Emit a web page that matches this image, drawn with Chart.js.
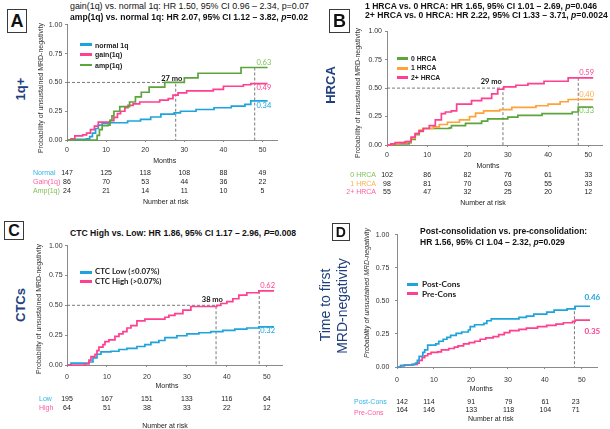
<!DOCTYPE html>
<html><head><meta charset="utf-8">
<script src="https://cdn.jsdelivr.net/npm/chart.js@4.4.1/dist/chart.umd.min.js"></script>
<style>
html,body{margin:0;padding:0;background:#fff;}
#root{position:relative;width:610px;height:429px;overflow:hidden;background:#fff;font-family:"Liberation Sans",Arial,sans-serif;}
.t{position:absolute;white-space:nowrap;line-height:1;}
canvas{position:absolute;}
.box{position:absolute;border:1.4px solid #3a3a3a;box-sizing:border-box;display:flex;align-items:center;justify-content:center;font-weight:bold;color:#111;line-height:1;}
.sw{position:absolute;height:2.6px;}
</style></head><body><div id="root"></div>
<script>
// ---------------- DATA ----------------
const monthTicks = [0, 10, 20, 30, 40, 50];
const probTicks = [0, 0.25, 0.5, 0.75, 1];

// Panel A: 1q+
const normal1q_t = [0,2,5,5.8,6.5,7.3,8,9,11,15.5,18.8,21.4,24,27.4,29,33,37.6,42,45.5,47,51.3];
const normal1q_p = [0,0.005,0.01,0.03,0.06,0.10,0.13,0.145,0.15,0.165,0.18,0.20,0.225,0.235,0.25,0.265,0.28,0.295,0.31,0.34,0.34];
const gain1q_t = [0,1,2,4,5,6,7,8,11,12,12.9,13.7,14.8,15.6,16.9,18.6,23.7,25.9,27.1,28.4,30.6,37.4,40,45.1,47,51.3];
const gain1q_p = [0,0.01,0.035,0.045,0.06,0.09,0.12,0.155,0.168,0.196,0.23,0.25,0.28,0.30,0.314,0.33,0.346,0.36,0.39,0.41,0.426,0.44,0.467,0.48,0.49,0.49];
const amp1q_t = [0,7.7,8.3,9,10.5,11,11.5,12,13.5,16,17.5,19,21,25,30,33.5,44.5,51.3];
const amp1q_p = [0,0.04,0.09,0.125,0.13,0.17,0.21,0.25,0.29,0.33,0.375,0.415,0.46,0.50,0.54,0.58,0.63,0.63];
const riskNormal = [147,125,118,108,88,49];
const riskGain = [86,70,53,44,36,22];
const riskAmp = [24,21,14,11,10,5];

// Panel B: HRCA
const hrca0_t = [0,1,3,5.5,6,7,8,9,15.5,16,19.5,23.5,25,30,32.5,38.5,46,47.5,51.2];
const hrca0_p = [0,0.005,0.01,0.02,0.05,0.09,0.12,0.145,0.15,0.17,0.19,0.21,0.23,0.245,0.26,0.275,0.29,0.333,0.333];
const hrca1_t = [0,1,3,5,6,7,8,9,11.5,13,15,18,20.5,22,24,28,31,37,40,43,45,51.2];
const hrca1_p = [0,0.01,0.02,0.03,0.06,0.10,0.13,0.145,0.16,0.18,0.20,0.22,0.25,0.28,0.30,0.31,0.33,0.345,0.36,0.38,0.40,0.40];
const hrca2_t = [0,1,2,4.5,6,7,8,9,10.5,12,13.5,14.5,16,17.3,21,23.5,26,27.5,29,32,35,39,45,51.2];
const hrca2_p = [0,0.01,0.02,0.03,0.07,0.10,0.125,0.145,0.17,0.22,0.275,0.29,0.30,0.36,0.39,0.41,0.45,0.49,0.51,0.525,0.54,0.56,0.59,0.59];
const risk0 = [102,86,82,76,61,33];
const risk1 = [98,81,70,63,55,33];
const risk2 = [55,47,32,25,20,12];

// Panel C: CTCs
const ctcLow_t = [0,1,5.5,6.5,7.5,8.5,11,13,15,17.5,19.5,21,23,24.5,27.5,30,33,36,39,42,45,48,51.8];
const ctcLow_p = [0,0.015,0.025,0.06,0.09,0.11,0.115,0.13,0.14,0.155,0.17,0.19,0.205,0.23,0.245,0.26,0.27,0.28,0.29,0.30,0.31,0.32,0.32];
const ctcHigh_t = [0,4.5,5.5,6,7,7.5,8,9,9.5,10.5,12,13,14,15,16,17.5,19.5,24.5,25.5,27,29,31,37.5,38.5,40,41.5,43,45,48,51.8];
const ctcHigh_p = [0,0.01,0.04,0.07,0.09,0.12,0.15,0.17,0.195,0.21,0.24,0.26,0.28,0.31,0.33,0.37,0.385,0.40,0.415,0.43,0.46,0.49,0.50,0.515,0.53,0.555,0.585,0.605,0.62,0.62];
const riskLow = [195,167,151,133,116,64];
const riskHigh = [64,51,38,33,22,12];

// Panel D: time to first MRD-negativity
const post_t = [0,1,2,4,5,5.5,6,7,7.5,8.3,10.5,11.3,12.5,13.5,14.5,16,17.5,19.3,19.8,21,23.5,24.3,25.5,33,35,37,40.5,42.5,46,48.2,52.2];
const post_p = [0,0.01,0.015,0.02,0.03,0.05,0.08,0.11,0.13,0.165,0.175,0.195,0.21,0.225,0.24,0.255,0.265,0.28,0.305,0.32,0.33,0.35,0.365,0.375,0.385,0.40,0.415,0.43,0.44,0.46,0.46];
const pre_t = [0,1,2,4.5,5.5,6,6.8,7.5,8.3,9.2,11,12,14,15.5,16.5,18,19.5,21,22.5,24,26,27.5,29,30.5,33,35,38,40.5,43,45,47.5,48.2,52.2];
const pre_p = [0,0.01,0.015,0.02,0.03,0.05,0.07,0.085,0.10,0.11,0.115,0.13,0.14,0.15,0.16,0.175,0.185,0.195,0.21,0.22,0.23,0.245,0.26,0.275,0.285,0.295,0.305,0.315,0.325,0.335,0.345,0.355,0.355];
const riskPost = [142,114,91,79,61,23];
const riskPre = [164,146,133,118,104,71];

// medians & landmarks
const medianMo = [27.8, 28.8, 37.3, null];
const medianText = ['27 mo', '29 mo', '38 mo', null];
const landmarkMo = [48, 47.5, 48.1, 48];
const endA = [0.63, 0.49, 0.34];
const endB = [0.59, 0.40, 0.33];
const endC = [0.62, 0.32];
const endD = [0.46, 0.35];

// ---------------- STYLE ----------------
const SANS = '"Liberation Sans", Arial, Helvetica, sans-serif';
const CAL = 'Lato, "Open Sans", sans-serif';
const C_CYAN = '#1ea4dc', C_PINK = '#ff3f8f', C_GREEN = '#5da43c', C_ORANGE = '#ffa23a';
const L_CYAN = '#35b3e6', L_PINK = '#ff5aa0', L_GREEN = '#7dbf52', L_ORANGE = '#ffae4a';
const NAVY = '#203f7e';

const root = document.getElementById('root');
function txt(x, y, html, o = {}) {
  const e = document.createElement('div');
  e.className = 't';
  e.innerHTML = html;
  e.style.left = x + 'px'; e.style.top = y + 'px';
  e.style.fontSize = (o.size || 7) + 'px';
  e.style.fontFamily = o.family || SANS;
  if (o.bold) e.style.fontWeight = 'bold';
  if (o.italic) e.style.fontStyle = 'italic';
  e.style.color = o.color || '#222';
  const ax = o.align === 'center' ? '-50%' : o.align === 'right' ? '-100%' : '0';
  e.style.transform = 'translate(' + (o.rot ? '-50%' : ax) + ',-50%)' + (o.rot ? ' rotate(' + o.rot + 'deg)' : '');
  root.appendChild(e);
  return e;
}
function box(x, y, w, h, letter, size) {
  const e = document.createElement('div');
  e.className = 'box';
  Object.assign(e.style, {left: x + 'px', top: y + 'px', width: w + 'px', height: h + 'px', fontSize: size + 'px', fontFamily: SANS});
  e.textContent = letter;
  root.appendChild(e);
}
function swatch(x1, x2, y, color) {
  const e = document.createElement('div');
  e.className = 'sw';
  Object.assign(e.style, {left: x1 + 'px', top: (y - 1.3) + 'px', width: (x2 - x1) + 'px', background: color});
  root.appendChild(e);
}
function series(t, p) { return t.map((m, i) => ({x: m, y: p[i]})); }
function curve(t, p, color) {
  return {data: series(t, p), borderColor: color, borderWidth: 1.7, stepped: 'before', pointRadius: 0, fill: false, clip: false, order: 0};
}
function dash(pts) {
  return {data: pts, borderColor: '#7a7a7a', borderWidth: 1, borderDash: [3, 2], pointRadius: 0, fill: false, stepped: false, clip: false, order: 1};
}

function makePanel(p) {
  const cv = document.createElement('canvas');
  const W = p.area.right - p.area.left + p.Yw + p.R;
  const H = p.area.bottom - p.area.top + p.T + p.Xh;
  const L = p.area.left - p.Yw, Tp = p.area.top - p.T;
  cv.width = W; cv.height = H;
  cv.style.left = L + 'px'; cv.style.top = Tp + 'px';
  cv.style.width = W + 'px'; cv.style.height = H + 'px';
  root.appendChild(cv);
  const tickFont = {family: SANS, size: 7};
  const chart = new Chart(cv, {
    type: 'line',
    data: {datasets: p.datasets},
    options: {
      responsive: false, animation: false, devicePixelRatio: 1,
      layout: {padding: {left: 0, top: p.T, right: p.R, bottom: 0}},
      plugins: {legend: {display: false}, tooltip: {enabled: false}},
      elements: {point: {radius: 0}, line: {tension: 0}},
      scales: {
        x: {
          type: 'linear', min: 0, max: p.xMax,
          afterBuildTicks: s => { s.ticks = monthTicks.map(v => ({value: v})); },
          afterFit: s => { s.height = p.Xh; },
          grid: {display: true, drawOnChartArea: false, tickLength: 2, color: '#8a8a8a'},
          border: {display: true, color: '#8a8a8a', width: 1},
          ticks: {padding: p.xPad, color: '#333', font: tickFont, maxRotation: 0, minRotation: 0, autoSkip: false}
        },
        y: {
          type: 'linear', min: 0, max: 1,
          afterBuildTicks: s => { s.ticks = probTicks.map(v => ({value: v})); },
          afterFit: s => { s.width = p.Yw; },
          grid: {display: true, drawOnChartArea: false, tickLength: 2, color: '#8a8a8a'},
          border: {display: true, color: '#8a8a8a', width: 1},
          ticks: {padding: p.yPad, color: '#333', font: tickFont, callback: v => Number(v).toFixed(2), autoSkip: false}
        }
      }
    }
  });
  const X = m => L + chart.scales.x.getPixelForValue(m);
  const Y = v => Tp + chart.scales.y.getPixelForValue(v);
  return {chart, X, Y};
}

function riskRows(P, rows, nudges) {
  rows.forEach(r => {
    txt(r.lx, r.ly, r.label, {size: 7, color: r.color, align: r.lalign || 'left'});
    r.vals.forEach((v, i) => {
      txt(P.X(monthTicks[i]) + (nudges ? nudges[i] : 0), r.ny !== undefined ? r.ny : r.ly, String(v), {size: 7, color: '#222', align: 'center'});
    });
  });
}

// ---------------- PANEL A ----------------
(function () {
  const P = makePanel({
    area: {left: 67, right: 277, top: 24, bottom: 140}, xMax: 53.7,
    Yw: 30, T: 6, R: 8, Xh: 22, xPad: 4.3, yPad: 2.7,
    datasets: [
      curve(amp1q_t, amp1q_p, C_GREEN),
      curve(gain1q_t, gain1q_p, C_PINK),
      curve(normal1q_t, normal1q_p, C_CYAN),
      dash([{x: 0, y: 0.5}, {x: medianMo[0], y: 0.5}, {x: medianMo[0], y: 0}]),
      dash([{x: landmarkMo[0], y: endA[0]}, {x: landmarkMo[0], y: 0}])
    ]
  });
  box(7.3, 9.3, 19.4, 24, 'A', 18);
  txt(20, 89, '1q+', {size: 13, bold: true, color: NAVY, rot: -90});
  txt(70, 6, 'gain(1q) vs. normal 1q: HR 1.50, 95% CI 0.96 – 2.34, p=0.07', {size: 8.9, color: '#111'});
  txt(70, 17.3, 'amp(1q) vs. normal 1q: HR 2.07, 95% CI 1.12 – 3.82, <i>p</i>=0.02', {size: 8.6, bold: true, color: '#111'});
  txt(40, 88, 'Probability of unsustained MRD-negativity', {size: 7, color: '#333', rot: -90});
  const lg = [['normal 1q', C_CYAN, 44.7], ['gain(1q)', C_PINK, 54.3], ['amp(1q)', C_GREEN, 65]];
  lg.forEach(l => { swatch(80, 92, l[2], l[1]); txt(95, l[2], l[0], {size: 7, bold: true, color: '#222'}); });
  txt(P.X(medianMo[0]) - 4, P.Y(0.5) - 3.8, medianText[0], {size: 7.5, bold: true, family: CAL, color: '#111', align: 'center'});
  const lx = P.X(landmarkMo[0]) + 1.7;
  txt(lx, P.Y(endA[0]) - 4.7, endA[0].toFixed(2), {size: 7.5, family: CAL, color: L_GREEN});
  txt(lx, P.Y(endA[1]) + 4, endA[1].toFixed(2), {size: 7.5, family: CAL, color: C_PINK});
  txt(lx, P.Y(endA[2]) + 5, endA[2].toFixed(2), {size: 7.5, family: CAL, color: C_CYAN});
  txt(P.X(25), 159.5, 'Months', {size: 7, color: '#222', align: 'center'});
  riskRows(P, [
    {label: 'Normal', color: L_CYAN, lx: 33, ly: 171.7, vals: riskNormal},
    {label: 'Gain(1q)', color: L_PINK, lx: 33, ly: 181, vals: riskGain},
    {label: 'Amp(1q)', color: L_GREEN, lx: 33, ly: 190, vals: riskAmp}
  ]);
  txt(P.X(25) + 1, 201, 'Number at risk', {size: 7, color: '#222', align: 'center'});
})();

// ---------------- PANEL B ----------------
(function () {
  const P = makePanel({
    area: {left: 387, right: 602, top: 30, bottom: 145}, xMax: 53.4,
    Yw: 30, T: 6, R: 6, Xh: 22, xPad: 3.8, yPad: 3,
    datasets: [
      curve(hrca2_t, hrca2_p, C_PINK),
      curve(hrca1_t, hrca1_p, C_ORANGE),
      curve(hrca0_t, hrca0_p, C_GREEN),
      dash([{x: 0, y: 0.5}, {x: medianMo[1], y: 0.5}, {x: medianMo[1], y: 0}]),
      dash([{x: landmarkMo[1], y: endB[0]}, {x: landmarkMo[1], y: 0}])
    ]
  });
  box(329, 9.3, 21, 23.4, 'B', 18);
  txt(330, 85, 'HRCA', {size: 13, bold: true, color: NAVY, rot: -90});
  txt(365, 5.7, '1 HRCA vs. 0 HRCA: HR 1.65, 95% CI 1.01 – 2.69, <i>p</i>=0.046', {size: 8.6, bold: true, color: '#111'});
  txt(365, 15, '2+ HRCA vs. 0 HRCA: HR 2.22, 95% CI 1.33 – 3.71, <i>p</i>=0.0024', {size: 8.65, bold: true, color: '#111'});
  txt(356.7, 92.5, 'Probability of unsustained MRD-negativity', {size: 7, color: '#333', rot: -90});
  const lg = [['0 HRCA', C_GREEN, 58.7], ['1 HRCA', C_ORANGE, 68.3], ['2+ HRCA', C_PINK, 77.7]];
  lg.forEach(l => { swatch(397, 408, l[2], l[1]); txt(411, l[2], l[0], {size: 6.8, bold: true, color: '#222'}); });
  txt(P.X(medianMo[1]) - 11.7, P.Y(0.5) - 5.8, medianText[1], {size: 7.5, bold: true, family: CAL, color: '#111', align: 'center'});
  const lx = P.X(landmarkMo[1]) + 1;
  txt(lx, P.Y(endB[0]) - 4.5, endB[0].toFixed(2), {size: 7.5, family: CAL, color: C_PINK});
  txt(lx, P.Y(endB[1]) - 4.7, endB[1].toFixed(2), {size: 7.5, family: CAL, color: L_ORANGE});
  txt(lx, P.Y(endB[2]) + 4, endB[2].toFixed(2), {size: 7.5, family: CAL, color: L_GREEN});
  txt(488, 164.8, 'Months', {size: 7, color: '#222', align: 'center'});
  riskRows(P, [
    {label: '0 HRCA', color: L_GREEN, lx: 376, ly: 174.3, lalign: 'right', vals: risk0},
    {label: '1 HRCA', color: L_ORANGE, lx: 376, ly: 182.7, lalign: 'right', vals: risk1},
    {label: '2+ HRCA', color: L_PINK, lx: 376, ly: 191, lalign: 'right', vals: risk2}
  ]);
  txt(483, 201.7, 'Number at risk', {size: 7, color: '#222', align: 'center'});
})();

// ---------------- PANEL C ----------------
(function () {
  const P = makePanel({
    area: {left: 67, right: 282, top: 245, bottom: 365}, xMax: 53.8,
    Yw: 30, T: 6, R: 6, Xh: 22, xPad: 5.5, yPad: 2.4,
    datasets: [
      curve(ctcHigh_t, ctcHigh_p, C_PINK),
      curve(ctcLow_t, ctcLow_p, C_CYAN),
      dash([{x: 0, y: 0.5}, {x: medianMo[2], y: 0.5}, {x: medianMo[2], y: 0}]),
      dash([{x: landmarkMo[2], y: endC[0]}, {x: landmarkMo[2], y: 0}])
    ]
  });
  box(4, 221, 20, 19, 'C', 16);
  txt(20, 305, 'CTCs', {size: 13, bold: true, color: NAVY, rot: -90});
  txt(70, 233.3, 'CTC High vs. Low: HR 1.86, 95% CI 1.17 – 2.96, <i>P</i>=0.008', {size: 8.65, bold: true, color: '#111'});
  txt(38.3, 309, 'Probability of unsustained MRD-negativity', {size: 7, color: '#333', rot: -90});
  const lg = [['CTC Low (≤0.07%)', C_CYAN, 272.3], ['CTC High (&gt;0.07%)', C_PINK, 281.7]];
  lg.forEach(l => { swatch(80, 92, l[2], l[1]); txt(95, l[2], l[0], {size: 7.9, bold: true, family: CAL, color: '#222'}); });
  txt(P.X(medianMo[2]) - 3.7, P.Y(0.5) - 5, medianText[2], {size: 7.5, bold: true, family: CAL, color: '#111', align: 'center'});
  const lx = P.X(landmarkMo[2]) + 1;
  txt(lx, P.Y(endC[0]) - 4.6, endC[0].toFixed(2), {size: 7.5, family: CAL, color: C_PINK});
  txt(lx, P.Y(endC[1]) + 4.5, endC[1].toFixed(2), {size: 7.5, family: CAL, color: C_CYAN});
  txt(P.X(25), 385, 'Months', {size: 7, color: '#222', align: 'center'});
  riskRows(P, [
    {label: 'Low', color: L_CYAN, lx: 39, ly: 397.7, vals: riskLow},
    {label: 'High', color: L_PINK, lx: 39, ly: 406.7, vals: riskHigh}
  ]);
  txt(165, 425, 'Number at risk', {size: 7, color: '#222', align: 'center'});
})();

// ---------------- PANEL D ----------------
(function () {
  const P = makePanel({
    area: {left: 397, right: 597, top: 231, bottom: 367}, xMax: 54.1,
    Yw: 30, T: 6, R: 6, Xh: 22, xPad: 6.4, yPad: 5.7,
    datasets: [
      curve(post_t, post_p, C_CYAN),
      curve(pre_t, pre_p, C_PINK),
      dash([{x: landmarkMo[3], y: endD[0]}, {x: landmarkMo[3], y: 0}])
    ]
  });
  box(331.7, 223.3, 18.3, 17.7, 'D', 14);
  txt(325, 305, 'Time to first', {size: 14, color: NAVY, rot: -90});
  txt(341.5, 306, 'MRD-negativity', {size: 14, color: NAVY, rot: -90});
  txt(420, 231, 'Post-consolidation vs. pre-consolidation:', {size: 8.5, bold: true, color: '#111'});
  txt(420, 242, 'HR 1.56, 95% CI 1.04 – 2.32, <i>p</i>=0.029', {size: 8.5, bold: true, color: '#111'});
  txt(366, 292.5, 'Probability of unsustained MRD-negativity', {size: 7, italic: true, color: '#333', rot: -90});
  const lg = [['Post-Cons', C_CYAN, 284.3], ['Pre-Cons', C_PINK, 293.7]];
  lg.forEach(l => { swatch(407, 418, l[2], l[1]); txt(422, l[2], l[0], {size: 8.3, bold: true, family: CAL, color: '#222'}); });
  const lx = P.X(landmarkMo[3]) + 10;
  txt(lx, P.Y(endD[0]) - 9, endD[0].toFixed(2), {size: 8, bold: true, family: CAL, color: C_CYAN});
  txt(lx, P.Y(endD[1]) + 10, endD[1].toFixed(2), {size: 8, bold: true, family: CAL, color: C_PINK});
  txt(481.3, 388.3, 'Months', {size: 7, color: '#222', align: 'center'});
  const nud = [5, -5, 0.3, 0.7, 0.5, -6.2];
  riskRows(P, [
    {label: 'Post-Cons', color: L_CYAN, lx: 354, ly: 401, ny: 401.3, vals: riskPost},
    {label: 'Pre-Cons', color: L_PINK, lx: 354, ly: 411.7, ny: 409, vals: riskPre}
  ], nud);
  txt(490.7, 418.3, 'Number at risk', {size: 7, color: '#222', align: 'center'});
})();
</script>
</body></html>
